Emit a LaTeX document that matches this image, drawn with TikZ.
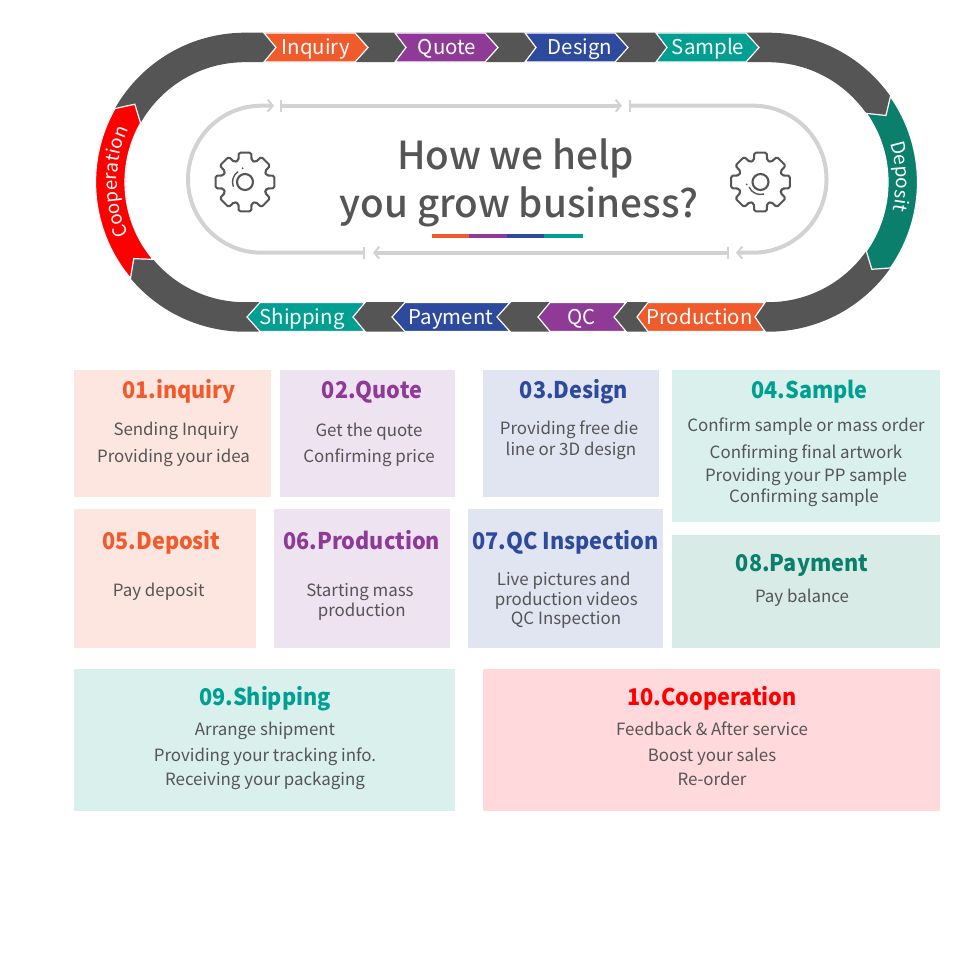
\documentclass[tikz,border=0pt]{standalone}
\usepackage{fontspec}
\setmainfont{Noto Sans CJK SC}
\newfontfamily\medfont{Noto Sans CJK SC Medium}
\newfontfamily\headfont{Noto Sans CJK SC}[FakeStretch=0.94]
\usetikzlibrary{arrows.meta,decorations.text}
\definecolor{cdark}{HTML}{555555}
\definecolor{cbody}{HTML}{555555}
\definecolor{ctrack}{HTML}{D2D2D2}
\definecolor{corange}{HTML}{F15A2B}
\definecolor{cpurple}{HTML}{8E3A96}
\definecolor{cblue}{HTML}{2E4A9E}
\definecolor{cteal}{HTML}{009F92}
\definecolor{cgreen}{HTML}{0A7F6C}
\definecolor{cred}{HTML}{FF0000}
\definecolor{torange}{HTML}{FDE6DF}
\definecolor{tpurple}{HTML}{EEE3F1}
\definecolor{tblue}{HTML}{E1E5F1}
\definecolor{tteal}{HTML}{D9F0EC}
\definecolor{tgreen}{HTML}{D9EBE7}
\definecolor{tred}{HTML}{FFD9DB}
\tikzset{
  seg/.style={draw=white,line width=1.2pt,line join=miter,fill=#1},
  tile/.style={fill=#1},
  segtext/.style={anchor=base,inner sep=0pt,text=white,font=\fontsize{20.4}{24}\selectfont},
  headtext/.style={anchor=base,inner sep=0pt,text=#1,font=\fontsize{23}{28}\headfont\bfseries},
  bodytext/.style={anchor=base,inner sep=0pt,text=cbody,font=\fontsize{16.9}{20}\selectfont},
  bigtext/.style={anchor=base,inner sep=0pt,text=cbody,font=\fontsize{38.6}{46}\medfont},
  track/.style={draw=ctrack,line width=4pt},
  gearline/.style={draw=cdark,line width=2.1pt,line cap=round,line join=round},
  trackends/.style={{Bar[width=12pt,line width=1.8pt]}-{Straight Barb[length=5pt,width=12pt,line width=2pt]}}
}
\newcommand{\gearshape}{%
  \draw[gearline,rounded corners=1.6pt] (-22.5:22.5)
    \foreach \a in {0,45,...,315} {
      -- ({\a-17}:22.5) -- ({\a-12}:30) -- ({\a+12}:30) -- ({\a+17}:22.5)
    } -- cycle;
  \draw[gearline] (0,0) circle[radius=8pt];
}
\begin{document}
\begin{tikzpicture}[x=1pt,y=1pt]
\useasboundingbox (0,0) rectangle (960,-960);
% outer band
\draw[draw=cdark,line width=29.5pt] (245,-47.45) -- (768,-47.45)
  arc[start angle=90,end angle=-90,radius=134.75pt] -- (245,-316.95)
  arc[start angle=270,end angle=90,radius=134.75pt] -- cycle;
% top chevrons
\fill[seg=corange] (264,-33) -- (355,-33) -- (368,-47.5) -- (355,-62) -- (264,-62) -- (276,-47.5) -- cycle;
\fill[seg=cpurple] (395,-33) -- (485,-33) -- (498,-47.5) -- (485,-62) -- (395,-62) -- (406,-47.5) -- cycle;
\fill[seg=cblue] (525,-33) -- (615,-33) -- (628,-47.5) -- (615,-62) -- (525,-62) -- (536,-47.5) -- cycle;
\fill[seg=cteal] (656,-33) -- (746,-33) -- (759,-47.5) -- (746,-62) -- (656,-62) -- (667,-47.5) -- cycle;
% bottom chevrons
\fill[seg=corange] (765,-302.5) -- (648,-302.5) -- (637,-317) -- (648,-331.5) -- (765,-331.5) -- (755,-317) -- cycle;
\fill[seg=cpurple] (626,-302.5) -- (550,-302.5) -- (538,-317) -- (550,-331.5) -- (626,-331.5) -- (614,-317) -- cycle;
\fill[seg=cblue] (510,-302.5) -- (405,-302.5) -- (392,-317) -- (405,-331.5) -- (510,-331.5) -- (497,-317) -- cycle;
\fill[seg=cteal] (365,-302.5) -- (260,-302.5) -- (247,-317) -- (260,-331.5) -- (365,-331.5) -- (353,-317) -- cycle;
% curved segments
\begin{scope}[shift={(245,-182.2)}]
  \fill[seg=cred] (150.5:149.5) -- (144.7:135) -- (150.5:120)
     arc[start angle=150.5,end angle=220,radius=120pt] -- (214.5:135) -- (220:149.5)
     arc[start angle=220,end angle=150.5,radius=149.5pt] -- cycle;
  \path[decorate,decoration={text along path,text color=white,text align=center,
     text={|\fontsize{18.6}{22}\selectfont|Cooperation}}]
     (220:128) arc[start angle=220,end angle=140,radius=128pt];
\end{scope}
\begin{scope}[shift={(768,-182.2)}]
  \fill[seg=cgreen] (35:149.5) -- (29.5:135.5) -- (35:120)
     arc[start angle=35,end angle=-35,radius=120pt] -- (-40:135.5) -- (-35:149.5)
     arc[start angle=-35,end angle=35,radius=149.5pt] -- cycle;
  \path[decorate,decoration={text along path,text color=white,text align=center,
     text={|\fontsize{19}{23}\selectfont|Deposit}}]
     (42.5:128) arc[start angle=42.5,end angle=-37.5,radius=128pt];
\end{scope}
% labels on band
\node[segtext] (lInquiry) at (316,-54.5) {Inquiry};
\node[segtext] (lQuote) at (447,-54.5) {Quote};
\node[segtext] (lDesign) at (580,-54.5) {Design};
\node[segtext] (lSample) at (708,-54.5) {Sample};
\node[segtext] (lProduction) at (699.5,-324) {Production};
\node[segtext] (lQC) at (581.5,-324) {QC};
\node[segtext] (lPayment) at (451,-324) {Payment};
\node[segtext] (lShipping) at (302,-324) {Shipping};
% inner track
\draw[track,trackends] (365,-252.7) -- (261.5,-252.7) arc[start angle=270,end angle=90,radius=73.5pt] -- (274,-105.7);
\draw[track,trackends] (280,-105.7) -- (622,-105.7);
\draw[track,trackends] (629,-105.7) -- (753,-105.7) arc[start angle=90,end angle=-90,radius=73.5pt] -- (736,-252.7);
\draw[track,trackends] (729,-252.7) -- (373,-252.7);
% gears
\begin{scope}[shift={(245,-182)}]
  \gearshape
  \draw[gearline,line width=1.4pt] (125:12.5) arc[start angle=125,end angle=200,radius=12.5pt];
  \fill[cdark] (100:14) circle[radius=1pt];
\end{scope}
\begin{scope}[shift={(760.5,-182)}]
  \gearshape
  \draw[gearline,line width=1.4pt] (205:12.5) arc[start angle=205,end angle=285,radius=12.5pt];
  \fill[cdark] (190:14) circle[radius=1pt];
\end{scope}
% title
\node[bigtext] (how) at (515.5,-170) {How we help};
\node[bigtext] (you) at (519,-217) {you grow business?};
\fill[corange] (431.5,-234.3) rectangle (469,-238);
\fill[cpurple] (469,-234.3) rectangle (507,-238);
\fill[cblue] (507,-234.3) rectangle (544,-238);
\fill[cteal] (544,-234.3) rectangle (582.5,-238);
% tiles
\fill[tile=torange] (74,-370) rectangle (271,-497);
\fill[tile=tpurple] (280,-370) rectangle (455,-497);
\fill[tile=tblue] (483,-370) rectangle (659,-497);
\fill[tile=tteal] (672,-370) rectangle (940,-522);
\fill[tile=torange] (74,-509) rectangle (256,-648);
\fill[tile=tpurple] (274,-509) rectangle (450,-648);
\fill[tile=tblue] (468,-509) rectangle (663,-648);
\fill[tile=tgreen] (672,-535) rectangle (940,-648);
\fill[tile=tteal] (74,-669) rectangle (455,-811);
\fill[tile=tred] (483,-669) rectangle (940,-811);
% tile texts
\node[headtext=corange] (h1) at (179,-398) {01.inquiry};
\node[bodytext] (b1a) at (176,-435) {Sending Inquiry};
\node[bodytext] (b1b) at (173.5,-462.3) {Providing your idea};
\node[headtext=cpurple] (h2) at (372,-398) {02.Quote};
\node[bodytext] (b2a) at (369,-436.7) {Get the quote};
\node[bodytext] (b2b) at (369,-462.7) {Confirming price};
\node[headtext=cblue] (h3) at (574,-398) {03.Design};
\node[bodytext] (b3a) at (569,-434.7) {Providing free die};
\node[bodytext] (b3b) at (571,-455) {line or 3D design};
\node[headtext=cteal] (h4) at (809.5,-398) {04.Sample};
\node[bodytext] (b4a) at (806,-431.7) {Confirm sample or mass order};
\node[bodytext] (b4b) at (806,-458.3) {Confirming final artwork};
\node[bodytext] (b4c) at (806,-481.7) {Providing your PP sample};
\node[bodytext] (b4d) at (804,-502.7) {Confirming sample};
\node[headtext=corange] (h5) at (161.5,-549) {05.Deposit};
\node[bodytext] (b5a) at (158.7,-596.7) {Pay deposit};
\node[headtext=cpurple] (h6) at (361.7,-549) {06.Production};
\node[bodytext] (b6a) at (360,-596.7) {Starting mass};
\node[bodytext] (b6b) at (361.7,-616.7) {production};
\node[headtext=cblue] (h7) at (565.5,-549) {07.QC Inspection};
\node[bodytext] (b7a) at (563.7,-585.7) {Live pictures and};
\node[bodytext] (b7b) at (566.3,-605.7) {production videos};
\node[bodytext] (b7c) at (566,-624) {QC Inspection};
\node[headtext=cgreen] (h8) at (802,-571) {08.Payment};
\node[bodytext] (b8a) at (802,-602.3) {Pay balance};
\node[headtext=cteal] (h9) at (265,-705) {09.Shipping};
\node[bodytext] (b9a) at (265,-735) {Arrange shipment};
\node[bodytext] (b9b) at (265,-761) {Providing your tracking info.};
\node[bodytext] (b9c) at (265,-785) {Receiving your packaging};
\node[headtext=cred] (h10) at (712,-705) {10.Cooperation};
\node[bodytext] (b10a) at (712,-735) {Feedback \& After service};
\node[bodytext] (b10b) at (712,-761) {Boost your sales};
\node[bodytext] (b10c) at (712,-785) {Re-order};
\end{tikzpicture}
\end{document}
